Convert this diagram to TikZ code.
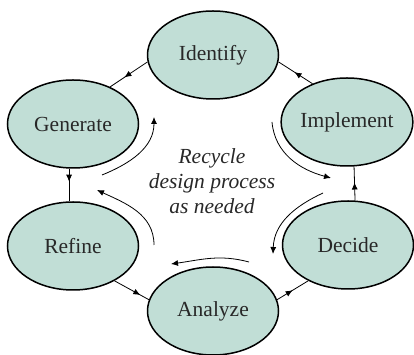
\documentclass[tikz,border=0pt]{standalone}
\usepackage{fontspec}
\setmainfont{Liberation Serif}
\usetikzlibrary{shapes.geometric,arrows.meta,decorations.markings}
\definecolor{stagefill}{RGB}{193,222,214}
\definecolor{txt}{RGB}{40,40,40}
\tikzset{
  stage/.style={ellipse,draw=black,line width=1.5pt,fill=stagefill,minimum width=131pt,minimum height=88pt,inner sep=0pt,font=\fontsize{21.5}{25}\selectfont,text=txt},
  link/.style={line width=0.8pt,postaction={decorate},decoration={markings,mark=at position #1 with {\arrow{Latex[length=7pt,width=6pt]}}}},
  recyc/.style={line width=0.8pt,-{Latex[length=7pt,width=6pt]}}
}
\begin{document}
\begin{tikzpicture}[x=1pt,y=1pt]
\useasboundingbox (0,0) rectangle (414,355);
\node[stage] (identify) at (213,300) {Identify};
\node[stage] (generate) at (73,231) {Generate};
\node[stage] (implement) at (347,233) {Implement};
\node[stage] (refine) at (73,109) {Refine};
\node[stage] (decide) at (348,110) {Decide};
\node[stage] (analyze) at (213,44) {Analyze};
\draw[link=0.62] (identify.186) -- (generate.45);
\draw[link=0.53] (implement.132) -- (identify.354);
\draw[link=0.53] (decide.81) -- (implement.279);
\draw[link=0.4] (generate.265) -- (refine.95);
\draw[link=0.75] (refine.320) -- (analyze.170);
\draw[link=0.5] (analyze.10) -- (decide.222);
\node[font=\itshape\fontsize{21.5}{25}\selectfont,text=txt,align=center] (center) at (212,174) {Recycle\\design process\\as needed};
\coordinate (a1) at (272,233); \coordinate (b1) at (331,177);
\coordinate (a2) at (323,162); \coordinate (b2) at (273,101);
\coordinate (a3) at (249,93); \coordinate (b3) at (171,91);
\coordinate (a4) at (154,110); \coordinate (b4) at (97,165);
\coordinate (a5) at (102,180); \coordinate (b5) at (154,238);
\draw[recyc] (a1) to[out=-85,in=165] (b1);
\draw[recyc] (a2) to[out=205,in=88] (b2);
\draw[recyc] (a3) to[out=165,in=8] (b3);
\draw[recyc] (a4) to[out=90,in=-25] (b4);
\draw[recyc] (a5) to[out=22,in=-90] (b5);
\end{tikzpicture}
\end{document}
